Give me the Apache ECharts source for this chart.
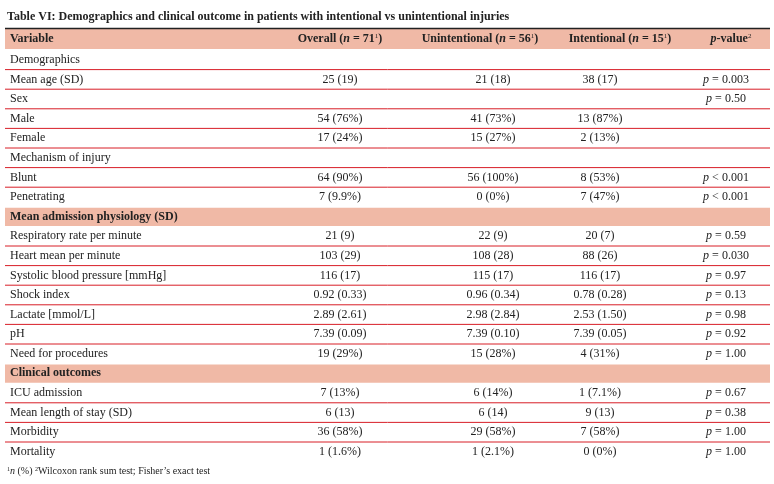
<!DOCTYPE html>
<html><head><meta charset="utf-8">
<script src="https://cdn.jsdelivr.net/npm/echarts@6/dist/echarts.min.js"></script>
<style>html,body{margin:0;background:#fff}#chart{width:774px;height:484px}</style>
</head><body><div id="chart"></div>
<script>
var labels = ['Demographics', 'Mean age (SD)', 'Sex', 'Male', 'Female', 'Mechanism of injury', 'Blunt', 'Penetrating',
    'Mean admission physiology (SD)', 'Respiratory rate per minute', 'Heart mean per minute', 'Systolic blood pressure [mmHg]',
    'Shock index', 'Lactate [mmol/L]', 'pH', 'Need for procedures', 'Clinical outcomes', 'ICU admission',
    'Mean length of stay (SD)', 'Morbidity', 'Mortality'];
var overall = ['', '25 (19)', '', '54 (76%)', '17 (24%)', '', '64 (90%)', '7 (9.9%)', '', '21 (9)', '103 (29)', '116 (17)',
    '0.92 (0.33)', '2.89 (2.61)', '7.39 (0.09)', '19 (29%)', '', '7 (13%)', '6 (13)', '36 (58%)', '1 (1.6%)'];
var unintentional = ['', '21 (18)', '', '41 (73%)', '15 (27%)', '', '56 (100%)', '0 (0%)', '', '22 (9)', '108 (28)', '115 (17)',
    '0.96 (0.34)', '2.98 (2.84)', '7.39 (0.10)', '15 (28%)', '', '6 (14%)', '6 (14)', '29 (58%)', '1 (2.1%)'];
var intentional = ['', '38 (17)', '', '13 (87%)', '2 (13%)', '', '8 (53%)', '7 (47%)', '', '20 (7)', '88 (26)', '116 (17)',
    '0.78 (0.28)', '2.53 (1.50)', '7.39 (0.05)', '4 (31%)', '', '1 (7.1%)', '9 (13)', '7 (58%)', '0 (0%)'];
var pValues = ['', '= 0.003', '= 0.50', '', '', '', '< 0.001', '< 0.001', '', '= 0.59', '= 0.030', '= 0.97',
    '= 0.13', '= 0.98', '= 0.92', '= 1.00', '', '= 0.67', '= 0.38', '= 1.00', '= 1.00'];
var sectionRows = [8, 16];

var chart = echarts.init(document.getElementById('chart'));
var FONT = '"Liberation Serif", "Times New Roman", serif';
var X0 = 5, X1 = 770, TOP = 50, RH = 19.6;
var colX = [340, 493, 600, 726];
var rich = {
    i: {fontStyle: 'italic', fontFamily: FONT, fontSize: 12, fill: '#222'},
    s: {fontFamily: FONT, fontSize: 7, verticalAlign: 'top', fill: '#222', padding: [0, 0, 6, 0]},
    b: {fontWeight: 'bold', fontFamily: FONT, fontSize: 12, fill: '#222'},
    bi: {fontWeight: 'bold', fontStyle: 'italic', fontFamily: FONT, fontSize: 12, fill: '#222'}
};

function txt(x, y, s, align, bold) {
    return {
        type: 'text', x: x, y: y,
        style: {text: s, font: (bold ? 'bold ' : '') + '12px ' + FONT, fill: '#222',
            align: align || 'left', verticalAlign: 'middle', rich: rich}
    };
}

var els = [];
els.push({type: 'text', x: 7, y: 17, style: {text: 'Table VI: Demographics and clinical outcome in patients with intentional vs unintentional injuries',
    font: 'bold 12px ' + FONT, fill: '#222', verticalAlign: 'middle'}});
els.push({type: 'rect', shape: {x: X0, y: 29, width: X1 - X0, height: 20}, style: {fill: '#f0b9a6'}});
els.push({type: 'line', shape: {x1: X0, y1: 28.5, x2: X1, y2: 28.5}, style: {stroke: '#222', lineWidth: 1.5}});
els.push(txt(10, 39, 'Variable', 'left', true));
els.push(txt(340, 39, '{b|Overall (}{bi|n}{b| = 71}{s|1}{b|)}', 'center'));
els.push(txt(480, 39, '{b|Unintentional (}{bi|n}{b| = 56}{s|1}{b|)}', 'center'));
els.push(txt(620, 39, '{b|Intentional (}{bi|n}{b| = 15}{s|1}{b|)}', 'center'));
els.push(txt(731, 39, '{bi|p}{b|-value}{s|2}', 'center'));

labels.forEach(function (lab, i) {
    var y0 = TOP + i * RH, cy = y0 + RH / 2;
    var sec = sectionRows.indexOf(i) >= 0;
    if (sec) {
        els.push({type: 'rect', shape: {x: X0, y: y0 + 1, width: X1 - X0, height: RH - 1.5}, style: {fill: '#f0b9a6'}});
    } else if (i < labels.length - 1 && sectionRows.indexOf(i + 1) < 0) {
        els.push({type: 'line', shape: {x1: X0, y1: y0 + RH, x2: X1, y2: y0 + RH}, style: {stroke: '#d81e27', lineWidth: 1}});
    }
    els.push(txt(10, cy, lab, 'left', sec));
    els.push(txt(colX[0], cy, overall[i], 'center'));
    els.push(txt(colX[1], cy, unintentional[i], 'center'));
    els.push(txt(colX[2], cy, intentional[i], 'center'));
    if (pValues[i]) els.push(txt(colX[3], cy, '{i|p} ' + pValues[i], 'center'));
});

els.push({type: 'text', x: 7, y: TOP + labels.length * RH + 10, style: {
    text: '{ss|1}{si|n}{sn| (%) }{ss|2}{sn|Wilcoxon rank sum test; Fisher\u2019s exact test}',
    verticalAlign: 'middle',
    rich: {
        ss: {fontFamily: FONT, fontSize: 6, verticalAlign: 'top', padding: [0, 0, 5, 0], fill: '#222'},
        si: {fontFamily: FONT, fontSize: 10, fontStyle: 'italic', fill: '#222'},
        sn: {fontFamily: FONT, fontSize: 10, fill: '#222'}
    }
}});

chart.setOption({backgroundColor: '#fff', graphic: {elements: els}});
</script></body></html>
